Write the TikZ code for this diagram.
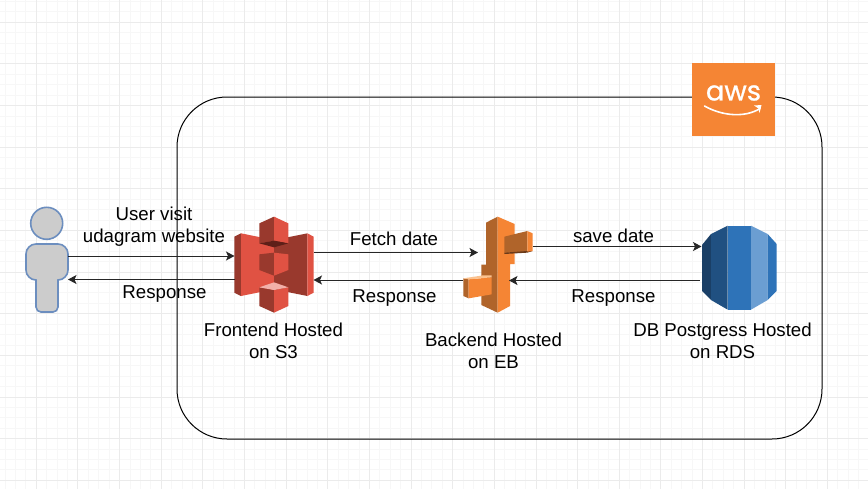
\documentclass[tikz,border=0pt]{standalone}
\usepackage{fontspec}
\setmainfont{Liberation Sans}
\newfontfamily\logofont[RawFeature={embolden=0.8}]{Poppins}
\usetikzlibrary{arrows.meta}
\definecolor{awsorange}{HTML}{F58534}
\definecolor{ebdark}{HTML}{B0642A}
\definecolor{ebshade}{HTML}{6B3A19}
\definecolor{ebpale}{HTML}{FBC28F}
\definecolor{sthree}{HTML}{E05243}
\definecolor{sthreedark}{HTML}{99392D}
\definecolor{sthreeshade}{HTML}{5E1F18}
\definecolor{sthreepale}{HTML}{F2B0A9}
\definecolor{rdsone}{HTML}{1A3F66}
\definecolor{rdstwo}{HTML}{205081}
\definecolor{rdsthree}{HTML}{2E73B8}
\definecolor{rdsfour}{HTML}{6B9ED2}
\definecolor{usergray}{HTML}{CCCCCC}
\definecolor{userline}{HTML}{6C8EBF}
\def\px{0.75pt}
\begin{document}
\begin{tikzpicture}[x=0.75pt,y=-0.75pt]
    % Setup the styles
        \tikzset{icon box/.style={inner sep=0pt, outer sep=0pt},
                 flow/.style={->, line width=\px, draw=black!85,
                              >={Stealth[length=8.5*\px,width=9*\px,inset=2*\px]}},
                 caption/.style={font=\fontsize{14}{16.5}\selectfont, align=center,
                                 inner sep=0pt, text=black}}
        \useasboundingbox (0,0) rectangle (868,489);
        \fill[white] (0,0) rectangle (868,489);
        % Draw the grid
        \foreach \k in {0,...,84}
            \draw[black!3, line width=\px] ({-5.3+10.41*\k},0) -- ({-5.3+10.41*\k},489);
        \foreach \k in {0,...,47}
            \draw[black!3, line width=\px] (0,{1.5+10.41*\k}) -- (868,{1.5+10.41*\k});
        \foreach \k in {0,...,21}
            \draw[black!8, line width=\px] ({-5.3+41.64*\k},0) -- ({-5.3+41.64*\k},489);
        \foreach \k in {0,...,11}
            \draw[black!8, line width=\px] (0,{22.3+41.64*\k}) -- (868,{22.3+41.64*\k});
        % Draw the container and the logo
        \node[draw=black, line width=\px, rounded corners=50*\px, inner sep=0pt,
              minimum width=645*\px, minimum height=342*\px] (cloud) at (499.5,268) {};
        \node[fill=awsorange, inner sep=0pt, minimum width=83.5*\px, minimum height=73*\px] (aws) at (733.4,99.7) {};
        \node[text=white, inner sep=0pt, font=\logofont\fontsize{20.5}{20.5}\selectfont] (awstext) at (733.5,93) {aws};
        \draw[white, line width=1.6*\px, line cap=round] (704.5,106) .. controls (722,116) and (745,118) .. (760,108.5);
        \fill[white] (754,105.5) -- (761.5,105) -- (759.5,113) -- (758.5,108.5) -- cycle;
        % Draw the user
        \draw[fill=usergray, draw=userline, line width=1.6*\px] (46.7,223.3) circle (16);
        \draw[fill=usergray, draw=userline, line width=1.6*\px]
            (36,244) -- (58,244) .. controls (63.5,244) and (68,248.5) .. (68,254) -- (68,270)
            .. controls (68,275.5) and (63.5,280) .. (58,280) -- (58,307)
            .. controls (58,310) and (55.5,312) .. (53,312) -- (41,312)
            .. controls (38.5,312) and (36,310) .. (36,307) -- (36,280)
            .. controls (30.5,280) and (26,275.5) .. (26,270) -- (26,254)
            .. controls (26,248.5) and (30.5,244) .. (36,244) -- cycle;
        \node[icon box, minimum width=42*\px, minimum height=104*\px] (user) at (47,260) {};
        % Draw the S3 bucket
        \begin{scope}[shift={(225,210)},x=0.25pt,y=-0.25pt]
            \fill[sthreedark] (28,80) -- (48,70) -- (48,258) -- (28,248) -- cycle;
            \fill[sthree] (48,70) -- (147,90) -- (147,238) -- (48,258) -- cycle;
            \fill[sthreedark] (147,90) -- (247,70) -- (247,258) -- (147,238) -- cycle;
            \fill[sthree] (247,70) -- (266,80) -- (266,248) -- (247,258) -- cycle;
            \fill[sthreedark] (103,40) -- (147,20) -- (147,92) -- (103,100) -- cycle;
            \fill[sthree] (147,20) -- (190,40) -- (190,100) -- (147,92) -- cycle;
            \fill[sthreeshade] (103,100) -- (147,92) -- (190,100) -- (147,112) -- cycle;
            \fill[sthreedark] (103,133) -- (147,128) -- (147,197) -- (103,180) -- cycle;
            \fill[sthree] (147,128) -- (190,133) -- (190,180) -- (147,197) -- cycle;
            \fill[sthreedark] (103,232) -- (147,240) -- (147,308) -- (103,288) -- cycle;
            \fill[sthree] (147,240) -- (190,232) -- (190,288) -- (147,308) -- cycle;
            \fill[sthreepale] (103,232) -- (147,217) -- (190,232) -- (147,240) -- cycle;
        \end{scope}
        \node[icon box, minimum width=79*\px, minimum height=96*\px] (s3) at (274,265) {};
        % Draw the EB tree
        \begin{scope}[shift={(440,200)},x=0.25pt,y=-0.25pt]
            \fill[ebdark] (138,68) -- (173,50) -- (173,338) -- (124,315) -- (124,194) -- (138,194) -- cycle;
            \fill[awsorange] (173,50) -- (224,72) -- (224,192) -- (210,192) -- (210,318) -- (173,338) -- cycle;
            \fill[ebdark] (193,110) -- (262,93) -- (262,155) -- (193,158) -- cycle;
            \fill[ebshade] (193,158) -- (262,153) -- (278,153) -- (262,158) -- (193,162) -- cycle;
            \fill[awsorange] (262,93) -- (278,100) -- (278,153) -- (262,155) -- cycle;
            \fill[ebdark] (70,235) -- (86,238) -- (86,295) -- (70,288) -- cycle;
            \fill[awsorange] (86,238) -- (155,232) -- (155,283) -- (86,295) -- cycle;
            \fill[ebpale] (70,235) -- (130,226) -- (155,226) -- (155,232) -- (86,238) -- cycle;
        \end{scope}
        \node[icon box, minimum width=31*\px, minimum height=97*\px] (ebbody) at (493.5,264.5) {};
        \node[icon box, minimum width=29*\px, minimum height=23*\px] (ebleft) at (477.5,286) {};
        \node[icon box, minimum width=29*\px, minimum height=24*\px] (ebright) at (518.5,243) {};
        % Draw the RDS database
        \begin{scope}[shift={(680,210)},x=0.25pt,y=-0.25pt]
            \fill[rdsone] (66,105) -- (93,72) -- (93,270) -- (66,243) -- cycle;
            \fill[rdstwo] (93,72) -- (143,47) -- (143,299) -- (93,270) -- cycle;
            \fill[rdsthree] (143,47) -- (213,47) -- (213,299) -- (143,299) -- cycle;
            \fill[rdsfour] (213,47) -- (263,72) -- (263,270) -- (213,299) -- cycle;
            \fill[rdsthree] (263,72) -- (290,102) -- (290,243) -- (263,270) -- cycle;
        \end{scope}
        \node[icon box, minimum width=75*\px, minimum height=84*\px] (rds) at (739,267.5) {};
        % Connect the nodes with arrows
        \draw[flow] (user.east |- 0,256) -- (s3.west |- 0,256);
        \draw[flow] (s3.west |- 0,279.5) -- (user.east |- 0,279.5);
        \draw[flow] (s3.east |- 0,252.5) -- (ebbody.west |- 0,252.5);
        \draw[flow] (ebleft.west |- 0,280) -- (s3.east |- 0,280);
        \draw[flow] (ebright.east |- 0,246.5) -- (rds.west |- 0,246.5);
        \draw[flow] ([xshift=-1.5*\px]rds.west |- 0,280.5) -- (ebbody.east |- 0,280.5);
        % Draw the labels
        \node[caption] (visit) at (154,226.5) {User visit\\udagram website};
        \node[caption] (backuser) at (164.5,294.5) {Response};
        \node[caption] (fetch) at (394,238.5) {Fetch date};
        \node[caption] (backfront) at (394.5,298) {Response};
        \node[caption] (save) at (613.5,235.5) {save date};
        \node[caption] (backend) at (613.5,298) {Response};
        \node[caption] (frontlabel) at (273.5,340.5) {Frontend Hosted\\on S3};
        \node[caption] (eblabel) at (493.5,350.5) {Backend Hosted\\on EB};
        \node[caption] (rdslabel) at (722.5,340.5) {DB Postgress Hosted\\on RDS};
\end{tikzpicture}
\end{document}
